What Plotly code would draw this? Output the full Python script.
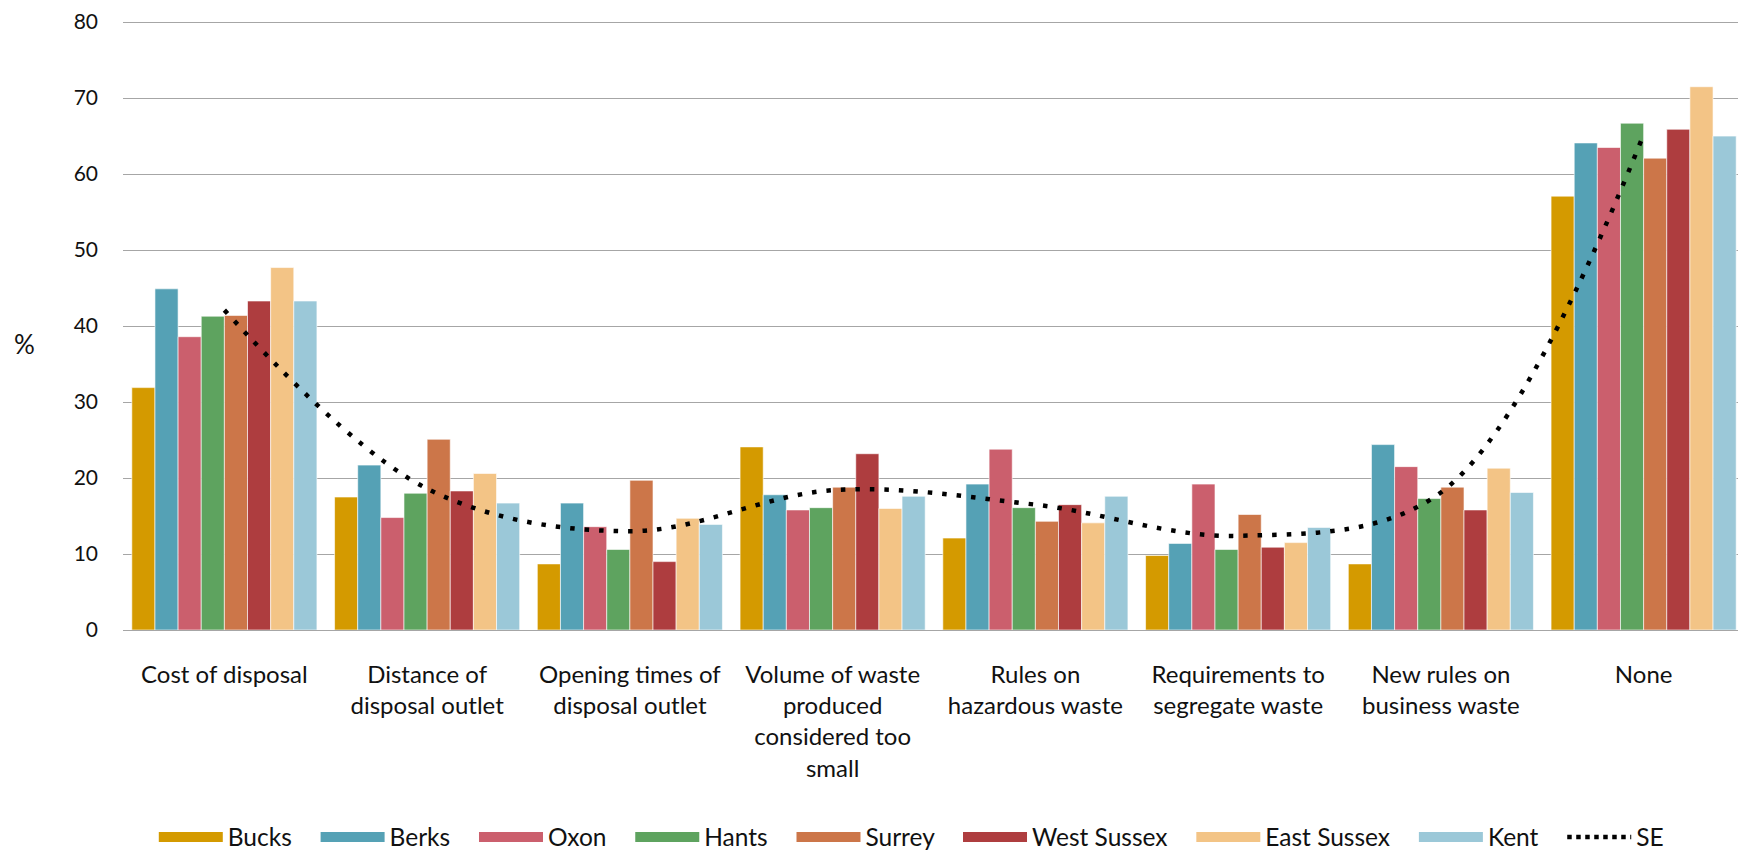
import plotly.graph_objects as go

categories = ["Cost of disposal", "Distance of<br>disposal outlet", "Opening times of<br>disposal outlet",
              "Volume of waste<br>produced<br>considered too<br>small", "Rules on<br>hazardous waste",
              "Requirements to<br>segregate waste", "New rules on<br>business waste", "None"]

bucks = [31.9, 17.5, 8.7, 24.1, 12.1, 9.8, 8.7, 57.1]
berks = [44.9, 21.7, 16.7, 17.8, 19.2, 11.4, 24.4, 64.1]
oxon = [38.6, 14.8, 13.6, 15.8, 23.8, 19.2, 21.5, 63.5]
hants = [41.3, 18.0, 10.6, 16.1, 16.1, 10.6, 17.3, 66.7]
surrey = [41.4, 25.1, 19.7, 18.8, 14.3, 15.2, 18.8, 62.1]
west_sussex = [43.3, 18.3, 9.0, 23.2, 16.5, 10.9, 15.8, 65.9]
east_sussex = [47.7, 20.6, 14.7, 16.0, 14.1, 11.5, 21.3, 71.5]
kent = [43.3, 16.7, 13.9, 17.6, 17.6, 13.5, 18.1, 65.0]
se = [42.1, 18.6, 13.0, 18.4, 16.5, 12.4, 18.1, 65.2]

series = [("Bucks", bucks, "#D49A00"), ("Berks", berks, "#55A1B5"), ("Oxon", oxon, "#CB5F6D"),
          ("Hants", hants, "#5EA35F"), ("Surrey", surrey, "#CC7649"), ("West Sussex", west_sussex, "#AE3D3F"),
          ("East Sussex", east_sussex, "#F3C486"), ("Kent", kent, "#9BC8D8")]

FONT = "Lato"
PAD = "\u00a0\u00a0\u00a0"
fig = go.Figure()
for name, vals, col in series:
    fig.add_trace(go.Bar(x=categories, y=vals, name=name, marker_color=col, legendgroup=name,
                         showlegend=False,
                         marker_line=dict(color="rgba(255,255,255,0.6)", width=1)))
fig.add_trace(go.Scatter(x=categories, y=se, name="SE", mode="lines", showlegend=False, legendgroup="SE",
                         line=dict(color="black", width=4.5, dash="4.5px,10px", shape="spline", smoothing=1)))
# legend entries (wide swatches)
for name, vals, col in series:
    fig.add_trace(go.Scatter(x=[None], y=[None], name=name + PAD, mode="lines", legendgroup=name,
                             line=dict(color=col, width=15)))
fig.add_trace(go.Scatter(x=[None], y=[None], name="SE", mode="lines", legendgroup="SE",
                         line=dict(color="black", width=4.5, dash="4.5px,4.5px")))

fig.update_layout(
    width=1738, height=844,
    margin=dict(l=115, r=1, t=13, b=222),
    paper_bgcolor="white", plot_bgcolor="white",
    barmode="group", bargap=0.087, bargroupgap=0,
    font=dict(family=FONT, size=22, color="#111111"),
    legend=dict(orientation="h", x=0.486, xanchor="center", yref="container", y=0.0178, yanchor="middle",
                font=dict(size=24.5), itemwidth=64, traceorder="normal"),
    xaxis=dict(showgrid=False, tickfont=dict(size=24), ticks="", showline=False,
               ticklabelstandoff=28, automargin=False),
    yaxis=dict(range=[0, 80.15], tickvals=[0, 10, 20, 30, 40, 50, 60, 70, 80], showgrid=True,
               gridcolor="#A6A6A6", gridwidth=1.3,
               zeroline=True, zerolinecolor="#A6A6A6", zerolinewidth=1.3, automargin=False,
               tickfont=dict(size=21), ticklabelstandoff=24, ticklabeloverflow="allow"),
    annotations=[dict(text="%", xref="paper", yref="paper", x=-0.061, y=0.469, xanchor="center",
                      yanchor="middle", showarrow=False, font=dict(size=26))],
)

fig.write_html("out.html")
